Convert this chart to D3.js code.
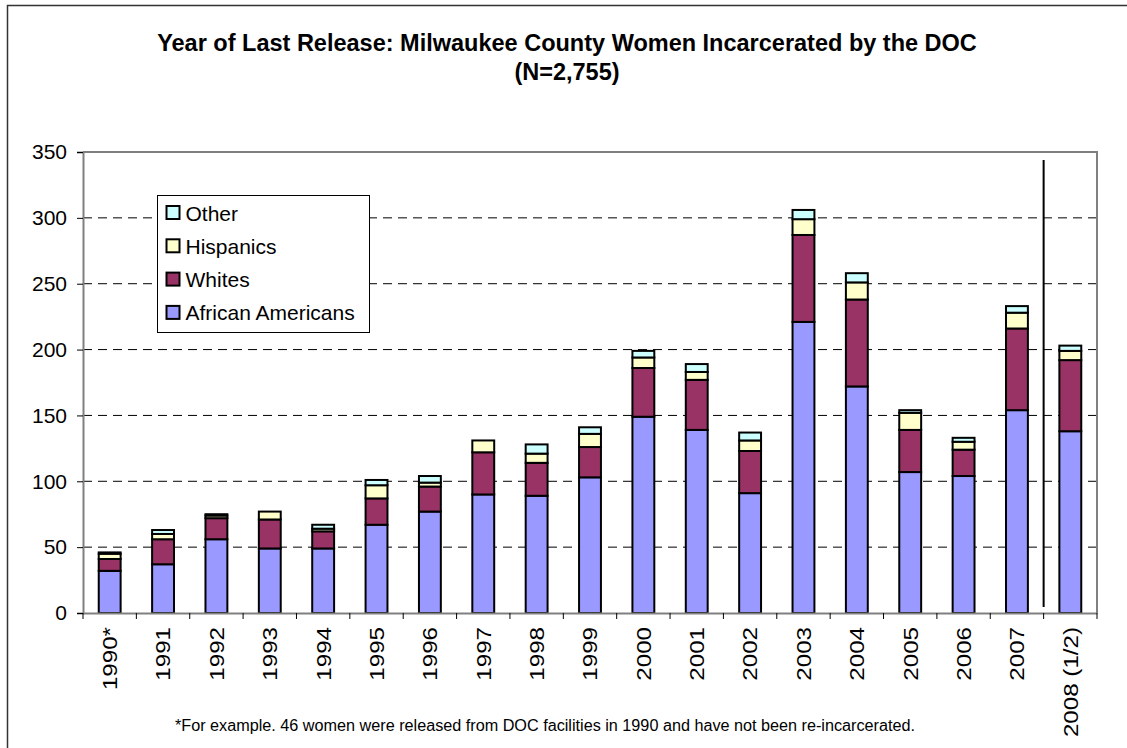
<!DOCTYPE html>
<html>
<head>
<meta charset="utf-8">
<script src="https://cdn.jsdelivr.net/npm/d3@7"></script>
<style>
  html, body { margin: 0; padding: 0; background: #fff; }
  svg { display: block; font-family: "Liberation Sans", Arial, sans-serif; }
</style>
</head>
<body>
<svg id="chart" width="1127" height="748"></svg>
<script>
// ---- data ----
const years = ["1990*","1991","1992","1993","1994","1995","1996","1997","1998","1999",
               "2000","2001","2002","2003","2004","2005","2006","2007","2008 (1/2)"];
const africanAmericans = [32,37,56,49,49,67,77,90,89,103,149,139,91,221,172,107,104,154,138];
const whites           = [9,19,16,22,13,20,19,32,25,23,37,38,32,66,66,32,20,62,54];
const hispanics        = [4,4,2,6,2,10,3,9,7,10,8,6,8,12,13,13,6,12,7];
const other            = [1,3,1,0,3,4,5,0,7,5,5,6,6,7,7,2,3,5,4];
const seriesNames = ["African Americans","Whites","Hispanics","Other"];
const seriesColors = ["#9999FF","#993366","#FFFFCC","#CCFFFF"];
const yTicks = [0,50,100,150,200,250,300,350];
const titleLines = ["Year of Last Release: Milwaukee County Women Incarcerated by the DOC","(N=2,755)"];
const footnote = "*For example. 46 women were released from DOC facilities in 1990 and have not been re-incarcerated.";
const dividerBefore = "2008 (1/2)";

// ---- layout ----
const W = 1127, H = 748;
const plot = {left: 83, right: 1097, top: 152, bottom: 613};
const svg = d3.select("#chart");
svg.append("rect").attr("width", W).attr("height", H).attr("fill", "#fff");

// outer frame
svg.append("rect").attr("x", 7.5).attr("y", 5.5).attr("width", W + 10).attr("height", H + 10)
  .attr("fill", "none").attr("stroke", "#333").attr("stroke-width", 1.5);

const x = d3.scaleBand().domain(years).range([plot.left, plot.right]).padding(0);
const y = d3.scaleLinear().domain([0, 350]).range([plot.bottom, plot.top]);
const barW = x.bandwidth() * 0.41;

// gridlines
svg.append("g").selectAll("line").data(yTicks.filter(t => t > 0 && t < 350)).join("line")
  .attr("x1", plot.left).attr("x2", plot.right)
  .attr("y1", d => y(d)).attr("y2", d => y(d))
  .attr("stroke", "#000").attr("stroke-width", 1).attr("stroke-dasharray", "9,6");

// plot border (top & right)
svg.append("path")
  .attr("d", `M${plot.left},${y(350)}H${plot.right}V${plot.bottom}`)
  .attr("fill", "none").attr("stroke", "#808080").attr("stroke-width", 2);

// stacked bars
const table = years.map((yr, i) => ({
  year: yr,
  "African Americans": africanAmericans[i],
  "Whites": whites[i],
  "Hispanics": hispanics[i],
  "Other": other[i]
}));
const stacked = d3.stack().keys(seriesNames)(table);
const gBars = svg.append("g");
stacked.forEach((layer, li) => {
  gBars.append("g").selectAll("rect").data(layer.filter(d => d[1] - d[0] > 0)).join("rect")
    .attr("x", d => x(d.data.year) + (x.bandwidth() - barW) / 2)
    .attr("width", barW)
    .attr("y", d => y(d[1]))
    .attr("height", d => y(d[0]) - y(d[1]))
    .attr("fill", seriesColors[li])
    .attr("stroke", "#000").attr("stroke-width", 2);
});

// axes
const yAxis = d3.axisLeft(y).tickValues(yTicks).tickSize(6).tickPadding(10).tickFormat(d3.format("d"));
const gy = svg.append("g").attr("transform", `translate(${plot.left},0)`).call(yAxis);
gy.select(".domain").attr("stroke", "#808080").attr("stroke-width", 2);
gy.selectAll(".tick line").attr("stroke", "#000");
gy.selectAll("text").attr("font-size", 21).attr("fill", "#000")
  .attr("font-family", "'Liberation Sans', Arial, sans-serif");

const gx = svg.append("g").attr("transform", `translate(0,${plot.bottom})`)
  .call(d3.axisBottom(x).tickSize(0).tickFormat(""));
gx.select(".domain").attr("stroke", "#808080").attr("stroke-width", 2);
// category boundary ticks
const bounds = years.map(yr => x(yr)).concat([x(years[years.length - 1]) + x.bandwidth()]);
svg.append("g").selectAll("line").data(bounds).join("line")
  .attr("x1", d => d).attr("x2", d => d)
  .attr("y1", plot.bottom).attr("y2", plot.bottom + 6)
  .attr("stroke", "#000").attr("stroke-width", 1);
// rotated labels (slightly stretched along the reading direction, as in the original)
const xl = svg.append("g").selectAll("text").data(years).join("text")
  .attr("transform", d => `translate(${x(d) + x.bandwidth() / 2},${plot.bottom + 14}) rotate(-90)`)
  .attr("text-anchor", "end").attr("dy", "0.35em")
  .attr("font-size", 21).attr("fill", "#000")
  .text(d => d);
xl.each(function() {
  const len = this.getComputedTextLength();
  d3.select(this).attr("textLength", len * 1.15).attr("lengthAdjust", "spacingAndGlyphs");
});

// divider line before partial year
const dx = x(dividerBefore);
svg.append("line").attr("x1", dx).attr("x2", dx)
  .attr("y1", y(344)).attr("y2", y(4.5))
  .attr("stroke", "#000").attr("stroke-width", 2);

// title
svg.append("g").selectAll("text").data(titleLines).join("text")
  .attr("x", 567).attr("y", (d, i) => 51 + i * 29)
  .attr("text-anchor", "middle").attr("font-weight", "bold").attr("font-size", 23.5)
  .attr("fill", "#000").text(d => d);

// legend
const lg = svg.append("g").attr("transform", "translate(157.5,195.5)");
lg.append("rect").attr("width", 212).attr("height", 137).attr("fill", "#fff")
  .attr("stroke", "#000").attr("stroke-width", 1);
const legendOrder = seriesNames.map((n, i) => ({name: n, color: seriesColors[i]})).reverse();
const li = lg.selectAll("g").data(legendOrder).join("g")
  .attr("transform", (d, i) => `translate(0,${17.5 + i * 33.3})`);
li.append("rect").attr("x", 9).attr("y", -7).attr("width", 13).attr("height", 13)
  .attr("fill", d => d.color).attr("stroke", "#000").attr("stroke-width", 2);
li.append("text").attr("x", 28).attr("dy", "0.36em").attr("font-size", 21).attr("fill", "#000")
  .text(d => d.name);

// footnote
svg.append("text").attr("x", 175).attr("y", 731).attr("font-size", 16).attr("fill", "#000")
  .attr("textLength", 740).attr("lengthAdjust", "spacingAndGlyphs")
  .text(footnote);
</script>
</body>
</html>
